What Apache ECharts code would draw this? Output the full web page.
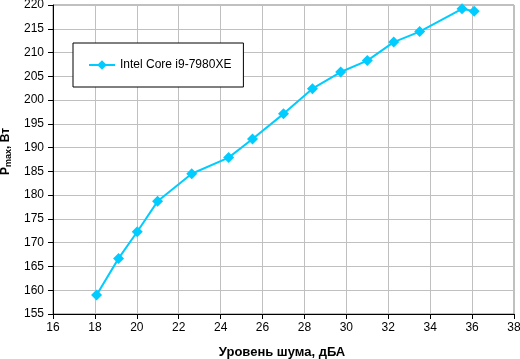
<!DOCTYPE html>
<html><head><meta charset="utf-8">
<script src="https://cdn.jsdelivr.net/npm/echarts@6/dist/echarts.min.js"></script>
<style>html,body{margin:0;padding:0;background:#fff}#c{width:520px;height:359px}</style>
</head><body><div id="c"></div>
<script>
const seriesName = 'Intel Core i9-7980XE';
const noise = [18.08, 19.13, 20.02, 20.99, 22.62, 24.38, 25.52, 27.0, 28.38, 29.73, 31.0, 32.26, 33.5, 35.52, 36.1];
const power = [159.0, 166.7, 172.3, 178.7, 184.5, 187.9, 191.8, 197.1, 202.4, 205.9, 208.3, 212.2, 214.4, 219.2, 218.7];
const xTitle = 'Уровень шума, дБА';

const data = noise.map((x, i) => [x, power[i]]);
const font = 'Liberation Sans, Arial, sans-serif';
const chart = echarts.init(document.getElementById('c'), null, {renderer: 'canvas'});
chart.setOption({
  animation: false,
  backgroundColor: '#fff',
  textStyle: {fontFamily: font},
  grid: {left: 53, right: 6, top: 5, bottom: 45, show: true, borderColor: '#808080', borderWidth: 1,
         containLabel: false, outerBoundsMode: 'none'},
  legend: {
    left: 73, top: 43, orient: 'horizontal',
    padding: [16, 12, 16, 15],
    itemWidth: 26, itemHeight: 12,
    borderColor: '#000', borderWidth: 1, backgroundColor: '#fff',
    textStyle: {fontFamily: font, fontSize: 12, color: '#000'},
    data: [seriesName]
  },
  xAxis: {
    type: 'value', min: 16, max: 38, interval: 2,
    name: xTitle, nameLocation: 'middle', nameGap: 32,
    nameTextStyle: {fontFamily: font, fontSize: 13, fontWeight: 'bold', color: '#000', padding: [0, 3, 0, 0]},
    axisLine: {show: true, onZero: false, lineStyle: {color: '#000', width: 1}},
    axisTick: {show: true, length: 5, lineStyle: {color: '#000'}},
    axisLabel: {color: '#000', fontSize: 12, fontFamily: font, margin: 8},
    splitLine: {show: true, lineStyle: {color: '#c0c0c0', width: 1}}
  },
  yAxis: {
    type: 'value', min: 155, max: 220, interval: 5,
    name: '{p|P}{s|max}{p|, Вт}', nameLocation: 'middle', nameGap: 28, nameRotate: 90,
    nameTextStyle: {
      fontFamily: font, color: '#000', padding: [0, 0, 0, 16],
      rich: {
        p: {fontFamily: font, fontSize: 12, fontWeight: 'bold', color: '#000', lineHeight: 14},
        s: {fontFamily: font, fontSize: 9, fontWeight: 'bold', color: '#000', padding: [6, 0, 0, 0], lineHeight: 14}
      }
    },
    axisLine: {show: true, onZero: false, lineStyle: {color: '#000', width: 1}},
    axisTick: {show: true, length: 5, lineStyle: {color: '#000'}},
    axisLabel: {color: '#000', fontSize: 12, fontFamily: font, margin: 9},
    splitLine: {show: true, lineStyle: {color: '#c0c0c0', width: 1}}
  },
  series: [{
    name: seriesName, type: 'line', data: data,
    symbol: 'diamond', symbolSize: 11,
    lineStyle: {color: '#00ccff', width: 2},
    itemStyle: {color: '#00ccff'},
    emphasis: {disabled: true}
  }]
});
</script></body></html>
